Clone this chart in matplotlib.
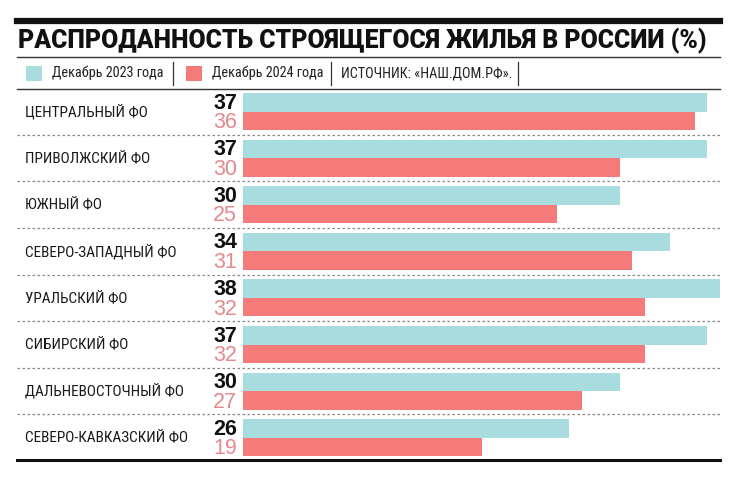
import matplotlib
matplotlib.use('Agg')
import matplotlib.pyplot as plt
from matplotlib.lines import Line2D
from matplotlib.patches import Rectangle
import matplotlib.transforms as mtransforms
import numpy as np

# Данные
regions = ['ЦЕНТРАЛЬНЫЙ ФО', 'ПРИВОЛЖСКИЙ ФО', 'ЮЖНЫЙ ФО', 'СЕВЕРО-ЗАПАДНЫЙ ФО',
           'УРАЛЬСКИЙ ФО', 'СИБИРСКИЙ ФО', 'ДАЛЬНЕВОСТОЧНЫЙ ФО', 'СЕВЕРО-КАВКАЗСКИЙ ФО']
dec_2023 = [37, 37, 30, 34, 38, 37, 30, 26]
dec_2024 = [36, 30, 25, 31, 32, 32, 27, 19]
series_labels = ['Декабрь 2023 года', 'Декабрь 2024 года']
source = 'ИСТОЧНИК: «НАШ.ДОМ.РФ».'
title = 'РАСПРОДАННОСТЬ СТРОЯЩЕГОСЯ ЖИЛЬЯ В РОССИИ (%)'

c_cyan = '#a9dcdf'
c_red = '#f47b79'
c_red_txt = '#e48a8d'

narrow = ['Roboto Condensed', 'DejaVu Sans Condensed', 'DejaVu Sans']
plain = ['Liberation Sans', 'DejaVu Sans']
heavy = ['Roboto', 'DejaVu Sans']

W, H = 748, 486
fig = plt.figure(figsize=(W / 100, H / 100), dpi=100)

def fx(px):
    return px / W

def fy(py):
    return 1 - py / H

# Оси для столбцов
top_px, bot_px = 89, 461
ax = fig.add_axes([fx(243), fy(bot_px), fx(720) - fx(243), (bot_px - top_px) / H])
ax.set_xlim(0, 38)
ax.set_ylim(7.5, -0.483)
ax.axis('off')

y = np.arange(len(regions))
bh = 0.397
ax.barh(y - bh / 2, dec_2023, height=bh, color=c_cyan, linewidth=0)
ax.barh(y + bh / 2, dec_2024, height=bh, color=c_red, linewidth=0)

trans = mtransforms.blended_transform_factory(fig.transFigure, ax.transData)
for i, name in enumerate(regions):
    ax.text(fx(25), i, name, transform=trans, ha='left', va='center',
            fontsize=11, family=narrow, color='#1a1a1a')
    ax.text(fx(237), i - bh / 2 + 0.02, str(dec_2023[i]), transform=trans, ha='right',
            va='center', fontsize=15.5, fontweight='bold', family=plain, color='#111111')
    ax.text(fx(237), i + bh / 2 + 0.04, str(dec_2024[i]), transform=trans, ha='right',
            va='center', fontsize=15.5, family=plain, color=c_red_txt)
    if i < len(regions) - 1:
        ax.plot([fx(17), fx(720)], [i + 0.5, i + 0.5], transform=trans, clip_on=False,
                color='#888888', lw=0.9, ls=(0, (2, 2)))

# Линии рамки
def hline(py, lw, color='#111111'):
    fig.add_artist(Line2D([fx(17), fx(720)], [fy(py), fy(py)], color=color, lw=lw,
                          transform=fig.transFigure))

hline(21.5, 4.5)
hline(57, 1.0, '#333333')
hline(89, 1.0, '#333333')
hline(460, 2.2)

fig.text(fx(18), fy(41), title, ha='left', va='center', fontsize=17.8,
         fontweight='black', family=heavy, color='#111111')

# Легенда
ly = 73
for x0, col, lab in [(26, c_cyan, series_labels[0]), (186, c_red, series_labels[1])]:
    fig.add_artist(Rectangle((fx(x0), fy(ly + 8)), 16 / W, 15 / H, color=col,
                             transform=fig.transFigure, lw=0))
    fig.text(fx(x0 + 26), fy(ly), lab, ha='left', va='center', fontsize=10.3,
             family=narrow, color='#222222')
fig.text(fx(341), fy(ly), source, ha='left', va='center', fontsize=10.3,
         family=narrow, color='#222222')
for sx in [173, 331, 518]:
    fig.add_artist(Line2D([fx(sx), fx(sx)], [fy(62), fy(85)], color='#333333', lw=0.9,
                          transform=fig.transFigure))

fig.savefig('out.png', dpi=100, facecolor='white')
